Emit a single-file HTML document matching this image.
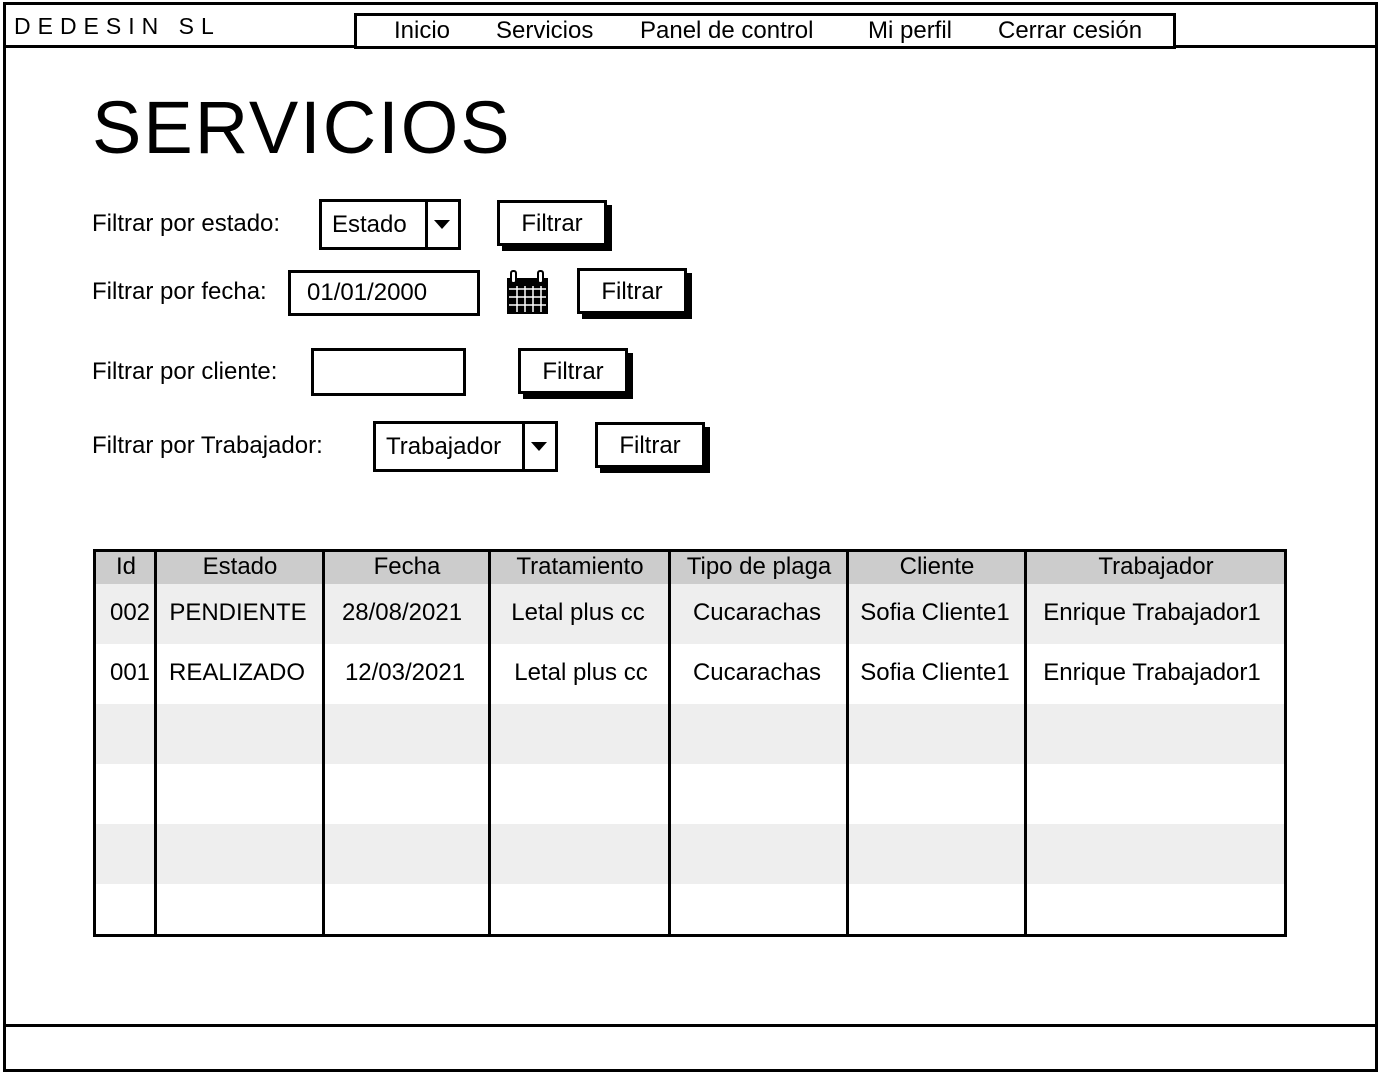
<!DOCTYPE html>
<html><head><meta charset="utf-8"><style>
body{margin:0;width:1380px;height:1074px;background:#fff;position:relative;overflow:hidden;font-family:"Liberation Sans",sans-serif;color:#000}
.a{position:absolute;box-sizing:border-box}
.t{position:absolute;white-space:nowrap;font-size:24px;line-height:28px}
.btn{position:absolute;box-sizing:border-box;border:3px solid #000;box-shadow:5px 5px 0 #000;background:#fff;font-size:24px;text-align:center}
.box{position:absolute;box-sizing:border-box;border:3px solid #000;background:#fff;font-size:24px}
.row{position:absolute;left:95px;width:1190px}
.c{position:absolute;font-size:24px;text-align:center;white-space:nowrap}
.v{position:absolute;top:550px;height:386px;width:3px;background:#000}
</style></head><body>
<div class="a" style="left:3px;top:2px;width:1375px;height:1070px;border:3px solid #000"></div>
<div class="a" style="left:3px;top:45px;width:1375px;height:3px;background:#000"></div>
<div class="a" style="left:3px;top:1024px;width:1375px;height:3px;background:#000"></div>
<div class="t" style="left:14px;top:12px;font-size:23px;letter-spacing:7px">DEDESIN SL</div>
<div class="a" style="left:354px;top:13px;width:822px;height:36px;border:3px solid #000;background:#fff"></div>
<div class="t" style="left:394px;top:17px">Inicio</div>
<div class="t" style="left:496px;top:17px">Servicios</div>
<div class="t" style="left:640px;top:17px">Panel de control</div>
<div class="t" style="left:868px;top:17px">Mi perfil</div>
<div class="t" style="left:998px;top:17px">Cerrar cesión</div>
<div class="t" style="left:92px;top:88px;font-size:74px;line-height:80px;letter-spacing:2px">SERVICIOS</div>

<div class="t" style="left:92px;top:210px">Filtrar por estado:</div>
<div class="box" style="left:319px;top:199px;width:142px;height:51px"><span style="position:absolute;left:10px;top:9px">Estado</span><div class="a" style="left:103px;top:0;width:3px;height:45px;background:#000"></div><div class="a" style="left:112px;top:18px;border-left:8px solid transparent;border-right:8px solid transparent;border-top:9px solid #000"></div></div>
<div class="btn" style="left:497px;top:200px;width:110px;height:46px;line-height:42px">Filtrar</div>

<div class="t" style="left:92px;top:278px">Filtrar por fecha:</div>
<div class="box" style="left:288px;top:270px;width:192px;height:46px;padding:6px 0 0 16px">01/01/2000</div>
<svg class="a" style="left:505px;top:270px" width="45" height="46"><rect x="2" y="8" width="41" height="36" fill="#000"/><g stroke="#fff" stroke-width="1.5"><path d="M4 19H41M4 27H41M4 35H41M12 16V42M20 16V42M28 16V42M36 16V42"/></g><rect x="6" y="1" width="5" height="12" rx="2" fill="#fff" stroke="#000" stroke-width="2"/><rect x="33" y="1" width="5" height="12" rx="2" fill="#fff" stroke="#000" stroke-width="2"/></svg>
<div class="btn" style="left:577px;top:268px;width:110px;height:46px;line-height:42px">Filtrar</div>

<div class="t" style="left:92px;top:358px">Filtrar por cliente:</div>
<div class="box" style="left:311px;top:348px;width:155px;height:48px"></div>
<div class="btn" style="left:518px;top:348px;width:110px;height:46px;line-height:42px">Filtrar</div>

<div class="t" style="left:92px;top:432px">Filtrar por Trabajador:</div>
<div class="box" style="left:373px;top:421px;width:185px;height:51px"><span style="position:absolute;left:10px;top:9px">Trabajador</span><div class="a" style="left:146px;top:0;width:3px;height:45px;background:#000"></div><div class="a" style="left:155px;top:18px;border-left:8px solid transparent;border-right:8px solid transparent;border-top:9px solid #000"></div></div>
<div class="btn" style="left:595px;top:422px;width:110px;height:46px;line-height:42px">Filtrar</div>

<div class="row" style="top:552px;height:32px;background:#ccc"></div>
<div class="row" style="top:584px;height:60px;background:#eee"></div>
<div class="row" style="top:704px;height:60px;background:#eee"></div>
<div class="row" style="top:824px;height:60px;background:#eee"></div>
<div class="a" style="left:93px;top:549px;width:1194px;height:388px;border:3px solid #000"></div>
<div class="v" style="left:154px"></div><div class="v" style="left:322px"></div><div class="v" style="left:488px"></div><div class="v" style="left:668px"></div><div class="v" style="left:846px"></div><div class="v" style="left:1024px"></div>

<div class="c" style="left:96px;width:60px;top:553px">Id</div>
<div class="c" style="left:157px;width:166px;top:553px">Estado</div>
<div class="c" style="left:325px;width:164px;top:553px">Fecha</div>
<div class="c" style="left:491px;width:178px;top:553px">Tratamiento</div>
<div class="c" style="left:671px;width:176px;top:553px">Tipo de plaga</div>
<div class="c" style="left:849px;width:176px;top:553px">Cliente</div>
<div class="c" style="left:1027px;width:258px;top:553px">Trabajador</div>

<div class="c" style="left:104px;width:52px;top:599px">002</div>
<div class="c" style="left:157px;width:162px;top:599px">PENDIENTE</div>
<div class="c" style="left:325px;width:154px;top:599px">28/08/2021</div>
<div class="c" style="left:491px;width:174px;top:599px">Letal plus cc</div>
<div class="c" style="left:671px;width:172px;top:599px">Cucarachas</div>
<div class="c" style="left:849px;width:172px;top:599px">Sofia Cliente1</div>
<div class="c" style="left:1027px;width:250px;top:599px">Enrique Trabajador1</div>

<div class="c" style="left:104px;width:52px;top:659px">001</div>
<div class="c" style="left:157px;width:160px;top:659px">REALIZADO</div>
<div class="c" style="left:325px;width:160px;top:659px">12/03/2021</div>
<div class="c" style="left:491px;width:180px;top:659px">Letal plus cc</div>
<div class="c" style="left:671px;width:172px;top:659px">Cucarachas</div>
<div class="c" style="left:849px;width:172px;top:659px">Sofia Cliente1</div>
<div class="c" style="left:1027px;width:250px;top:659px">Enrique Trabajador1</div>
</body></html>
